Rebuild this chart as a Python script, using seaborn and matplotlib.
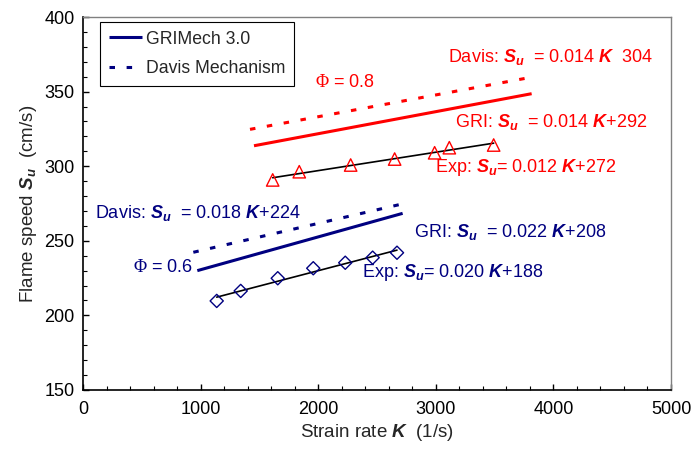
import numpy as np
import pandas as pd
import matplotlib
matplotlib.use("Agg")
import matplotlib.pyplot as plt
import seaborn as sns
from matplotlib.lines import Line2D

# ---------------- data ----------------
exp08_K = [1613, 1839, 2276, 2650, 2990, 3115, 3492]
exp08_S = [290.8, 296.3, 300.8, 304.8, 309.0, 312.4, 314.2]
exp06_K = [1137, 1341, 1656, 1958, 2230, 2463, 2670]
exp06_S = [209.7, 216.4, 224.9, 231.6, 235.3, 238.7, 242.0]

gri08_K = [1454, 3815]
gri08_S = [313.7, 348.6]
davis08_K = [1420, 3770]
davis08_S = [324.7, 359.0]
gri06_K = [972, 2718]
gri06_S = [230.0, 268.4]
davis06_K = [938, 2720]
davis06_S = [242.3, 274.8]

legend_labels = ["GRIMech 3.0", "Davis Mechanism"]
x_ticks = [0, 1000, 2000, 3000, 4000, 5000]
y_ticks = [150, 200, 250, 300, 350, 400]

RED = "#FF0000"
NAVY = "#000080"

# ---------------- style ----------------
sns.set_style("ticks")
plt.rcParams["font.family"] = ["Liberation Sans", "DejaVu Sans"]
plt.rcParams["mathtext.fontset"] = "custom"
plt.rcParams["mathtext.rm"] = "Liberation Sans"
plt.rcParams["mathtext.it"] = "Liberation Sans:italic"
plt.rcParams["mathtext.bf"] = "Liberation Sans:bold"
plt.rcParams["mathtext.bfit"] = "Liberation Sans:bold:italic"
plt.rcParams["mathtext.sf"] = "Liberation Serif"

fig, ax = plt.subplots(figsize=(6.94, 4.53), dpi=100)
fig.subplots_adjust(left=83/694, right=671/694, top=1-17/453, bottom=1-390/453)

dash = (0, (1.8, 3.8))

# model lines
sns.lineplot(x=davis08_K, y=davis08_S, color=RED, lw=2.2, linestyle=dash, ax=ax)
sns.lineplot(x=gri08_K, y=gri08_S, color=RED, lw=2.2, ax=ax)
sns.lineplot(x=davis06_K, y=davis06_S, color=NAVY, lw=2.2, linestyle=dash, ax=ax)
sns.lineplot(x=gri06_K, y=gri06_S, color=NAVY, lw=2.2, ax=ax)
for ln in ax.lines:
    ln.set_solid_capstyle("butt")
    ln.set_dash_capstyle("butt")

# experimental fits
df08 = pd.DataFrame({"K": exp08_K, "S": exp08_S})
df06 = pd.DataFrame({"K": exp06_K, "S": exp06_S})
sns.regplot(data=df08, x="K", y="S", scatter=False, ci=None, truncate=True,
            color="black", line_kws=dict(lw=1.2), ax=ax)
sns.regplot(data=df06, x="K", y="S", scatter=False, ci=None, truncate=True,
            color="black", line_kws=dict(lw=1.2), ax=ax)

# experimental points
sns.scatterplot(data=df08, x="K", y="S", marker="^", s=80, color=RED,
                facecolors="none", edgecolor=RED, linewidth=1.0, ax=ax, zorder=5)
sns.scatterplot(data=df06, x="K", y="S", marker="D", s=45, color=NAVY,
                facecolors="none", edgecolor=NAVY, linewidth=1.0, ax=ax, zorder=5)

# axes
ax.set_xlim(0, 5000)
ax.set_ylim(150, 400)
ax.set_xticks(x_ticks)
ax.set_yticks(y_ticks)
ax.set_xticks(np.arange(0, 5001, 200), minor=True)
ax.set_yticks(np.arange(150, 401, 10), minor=True)
ax.tick_params(which="both", direction="in", colors="black", labelsize=13)
ax.tick_params(which="major", length=4.5, width=1.0)
ax.tick_params(which="minor", length=3.0, width=0.8)
ax.tick_params(axis="x", pad=8)
ax.tick_params(axis="y", pad=6)
ax.tick_params(top=False, right=False, which="both")
for s in ["left", "bottom"]:
    ax.spines[s].set_color("black")
    ax.spines[s].set_linewidth(1.2)
for s in ["top", "right"]:
    ax.spines[s].set_visible(True)
    ax.spines[s].set_color("#808080")
    ax.spines[s].set_linewidth(1.0)

ax.set_xlabel(r"Strain rate $\mathbfit{K}$  (1/s)", fontsize=13.5, labelpad=3)
ax.set_ylabel(r"Flame speed $\mathbfit{S}_{\mathbfit{u}}$  (cm/s)", fontsize=13.5, labelpad=4)

# annotations
fs = 13
su = r"$\mathbfit{S}_{\mathbfit{u}}$"
kk = r"$\mathbfit{K}$"
ax.text(4847, 373.2, "Davis: " + su + "  = 0.014 " + kk + "  304", color=RED,
        fontsize=fs, ha="right", va="center")
ax.text(1973, 356.4, r"$\mathsf{\Phi}$ = 0.8", color=RED, fontsize=fs, ha="left", va="center")
ax.text(4804, 329.6, "GRI: " + su + "  = 0.014 " + kk + "+292", color=RED,
        fontsize=fs, ha="right", va="center")
ax.text(4532, 298.8, "Exp: " + su + "= 0.012 " + kk + "+272", color=RED,
        fontsize=fs, ha="right", va="center")
ax.text(102, 268.6, "Davis: " + su + "  = 0.018 " + kk + "+224", color=NAVY,
        fontsize=fs, ha="left", va="center")
ax.text(4456, 255.9, "GRI: " + su + "  = 0.022 " + kk + "+208", color=NAVY,
        fontsize=fs, ha="right", va="center")
ax.text(425, 231.8, r"$\mathsf{\Phi}$ = 0.6", color=NAVY, fontsize=fs, ha="left", va="center")
ax.text(3920, 228.5, "Exp: " + su + "= 0.020 " + kk + "+188", color=NAVY,
        fontsize=fs, ha="right", va="center")

# legend
handles = [Line2D([0], [0], color=NAVY, lw=2.2, solid_capstyle="butt"),
           Line2D([0], [0], color=NAVY, lw=2.2, linestyle=dash, dash_capstyle="butt")]
leg = ax.legend(handles, legend_labels, loc="upper left",
                bbox_to_anchor=(0.029, 0.987), fontsize=12.7, frameon=True,
                fancybox=False, framealpha=1, edgecolor="black",
                handlelength=1.9, handletextpad=0.2, labelspacing=0.7,
                borderpad=0.5, borderaxespad=0)
leg.get_frame().set_linewidth(0.8)

fig.savefig("out.png", dpi=100)
